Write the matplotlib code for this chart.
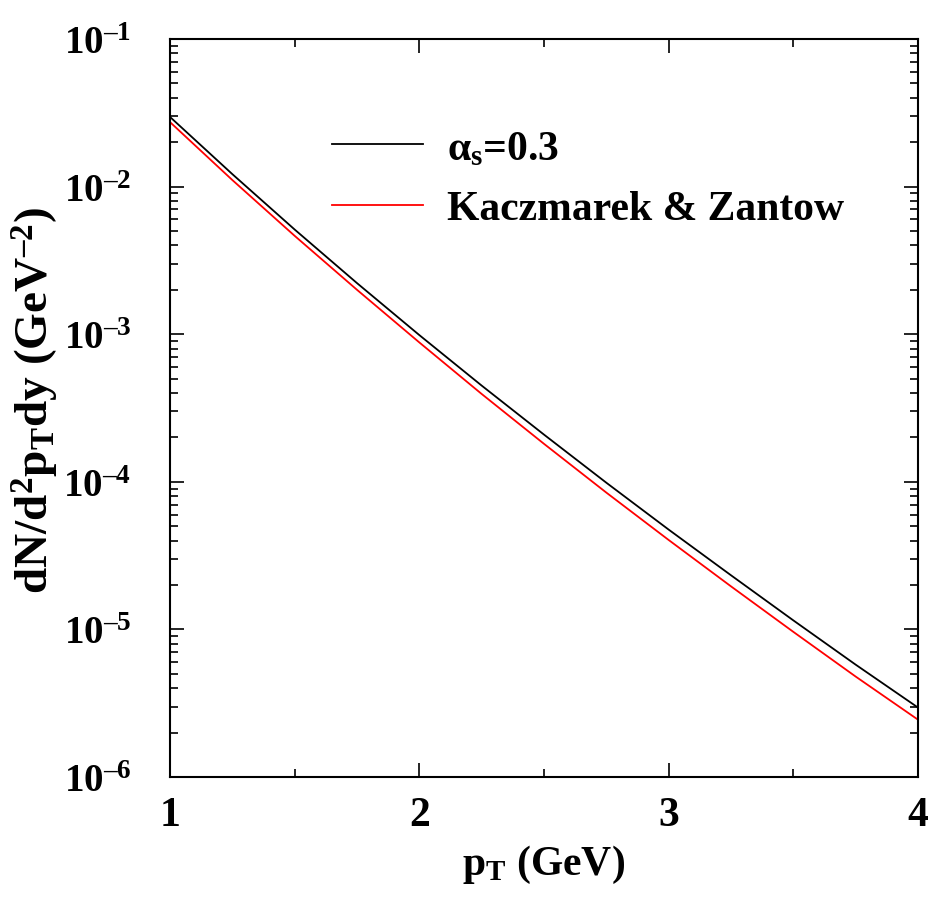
import numpy as np
import matplotlib
matplotlib.use('Agg')
import matplotlib.pyplot as plt
from matplotlib.ticker import LogLocator, FixedLocator, MultipleLocator, NullFormatter

plt.rcParams['font.family'] = ['Liberation Serif', 'DejaVu Serif']
plt.rcParams['font.weight'] = 'bold'
plt.rcParams['mathtext.fontset'] = 'custom'
plt.rcParams['mathtext.rm'] = 'Liberation Serif:bold'
plt.rcParams['mathtext.it'] = 'Liberation Serif:bold'
plt.rcParams['mathtext.bf'] = 'Liberation Serif:bold'
plt.rcParams['mathtext.default'] = 'rm'

# transverse momentum grid (GeV)
pt = [1.0, 1.25, 1.5, 1.75, 2.0, 2.25, 2.5, 2.75, 3.0, 3.25, 3.5, 3.75, 4.0]
# spectrum with fixed coupling alpha_s = 0.3
spec_alpha = [2.965e-2, 1.215e-2, 5.12e-3, 2.22e-3, 9.87e-4, 4.49e-4, 2.09e-4,
              9.87e-5, 4.75e-5, 2.33e-5, 1.153e-5, 5.78e-6, 2.96e-6]
# spectrum with Kaczmarek & Zantow running coupling
spec_kz = [2.735e-2, 1.108e-2, 4.64e-3, 2.00e-3, 8.80e-4, 3.94e-4, 1.81e-4,
           8.46e-5, 4.04e-5, 1.96e-5, 9.64e-6, 4.80e-6, 2.45e-6]

ylabels = [r'$10^{\mathregular{–%d}}$' % k for k in range(6, 0, -1)]

fig = plt.figure(figsize=(9.29, 9.03), dpi=100)
ax = fig.add_axes([0.183, 0.1384, 0.805, 0.8173])

ax.plot(pt, spec_alpha, color='black', lw=1.3, label=r'$\alpha_s$=0.3')
ax.plot(pt, spec_kz, color='red', lw=1.3, label='Kaczmarek & Zantow')

ax.set_yscale('log')
ax.set_xlim(1, 4)
ax.set_ylim(1e-6, 1e-1)

ax.xaxis.set_major_locator(FixedLocator([1, 2, 3, 4]))
ax.xaxis.set_minor_locator(MultipleLocator(0.5))
ax.set_xticklabels(['1', '2', '3', '4'])
ax.set_yticks([10.0**-k for k in range(6, 0, -1)])
ax.set_yticklabels(ylabels)
ax.yaxis.set_minor_locator(LogLocator(base=10, subs=np.arange(2, 10), numticks=20))
ax.yaxis.set_minor_formatter(NullFormatter())

ax.tick_params(which='both', direction='in', top=True, right=True, width=1.2)
ax.tick_params(which='major', length=10)
ax.tick_params(which='minor', length=6)
ax.tick_params(axis='x', labelsize=30, pad=14)
ax.tick_params(axis='y', labelsize=28, pad=28)
for s in ax.spines.values():
    s.set_linewidth(1.5)

ax.set_xlabel(r'p$_T$ (GeV)', fontsize=30, fontweight='bold', labelpad=6)
ax.set_ylabel(r'dN/d$^2$p$_T$dy (GeV$^{\mathregular{–2}}$)', fontsize=34,
              fontweight='bold')
ax.yaxis.set_label_coords(-0.146, 0.512)

ax.legend(loc='upper left', bbox_to_anchor=(0.2166, 0.877), frameon=False,
          fontsize=30, handlelength=2.18, handletextpad=0.58, labelspacing=0.53,
          borderpad=0, borderaxespad=0)

fig.savefig('out.png', dpi=100)
